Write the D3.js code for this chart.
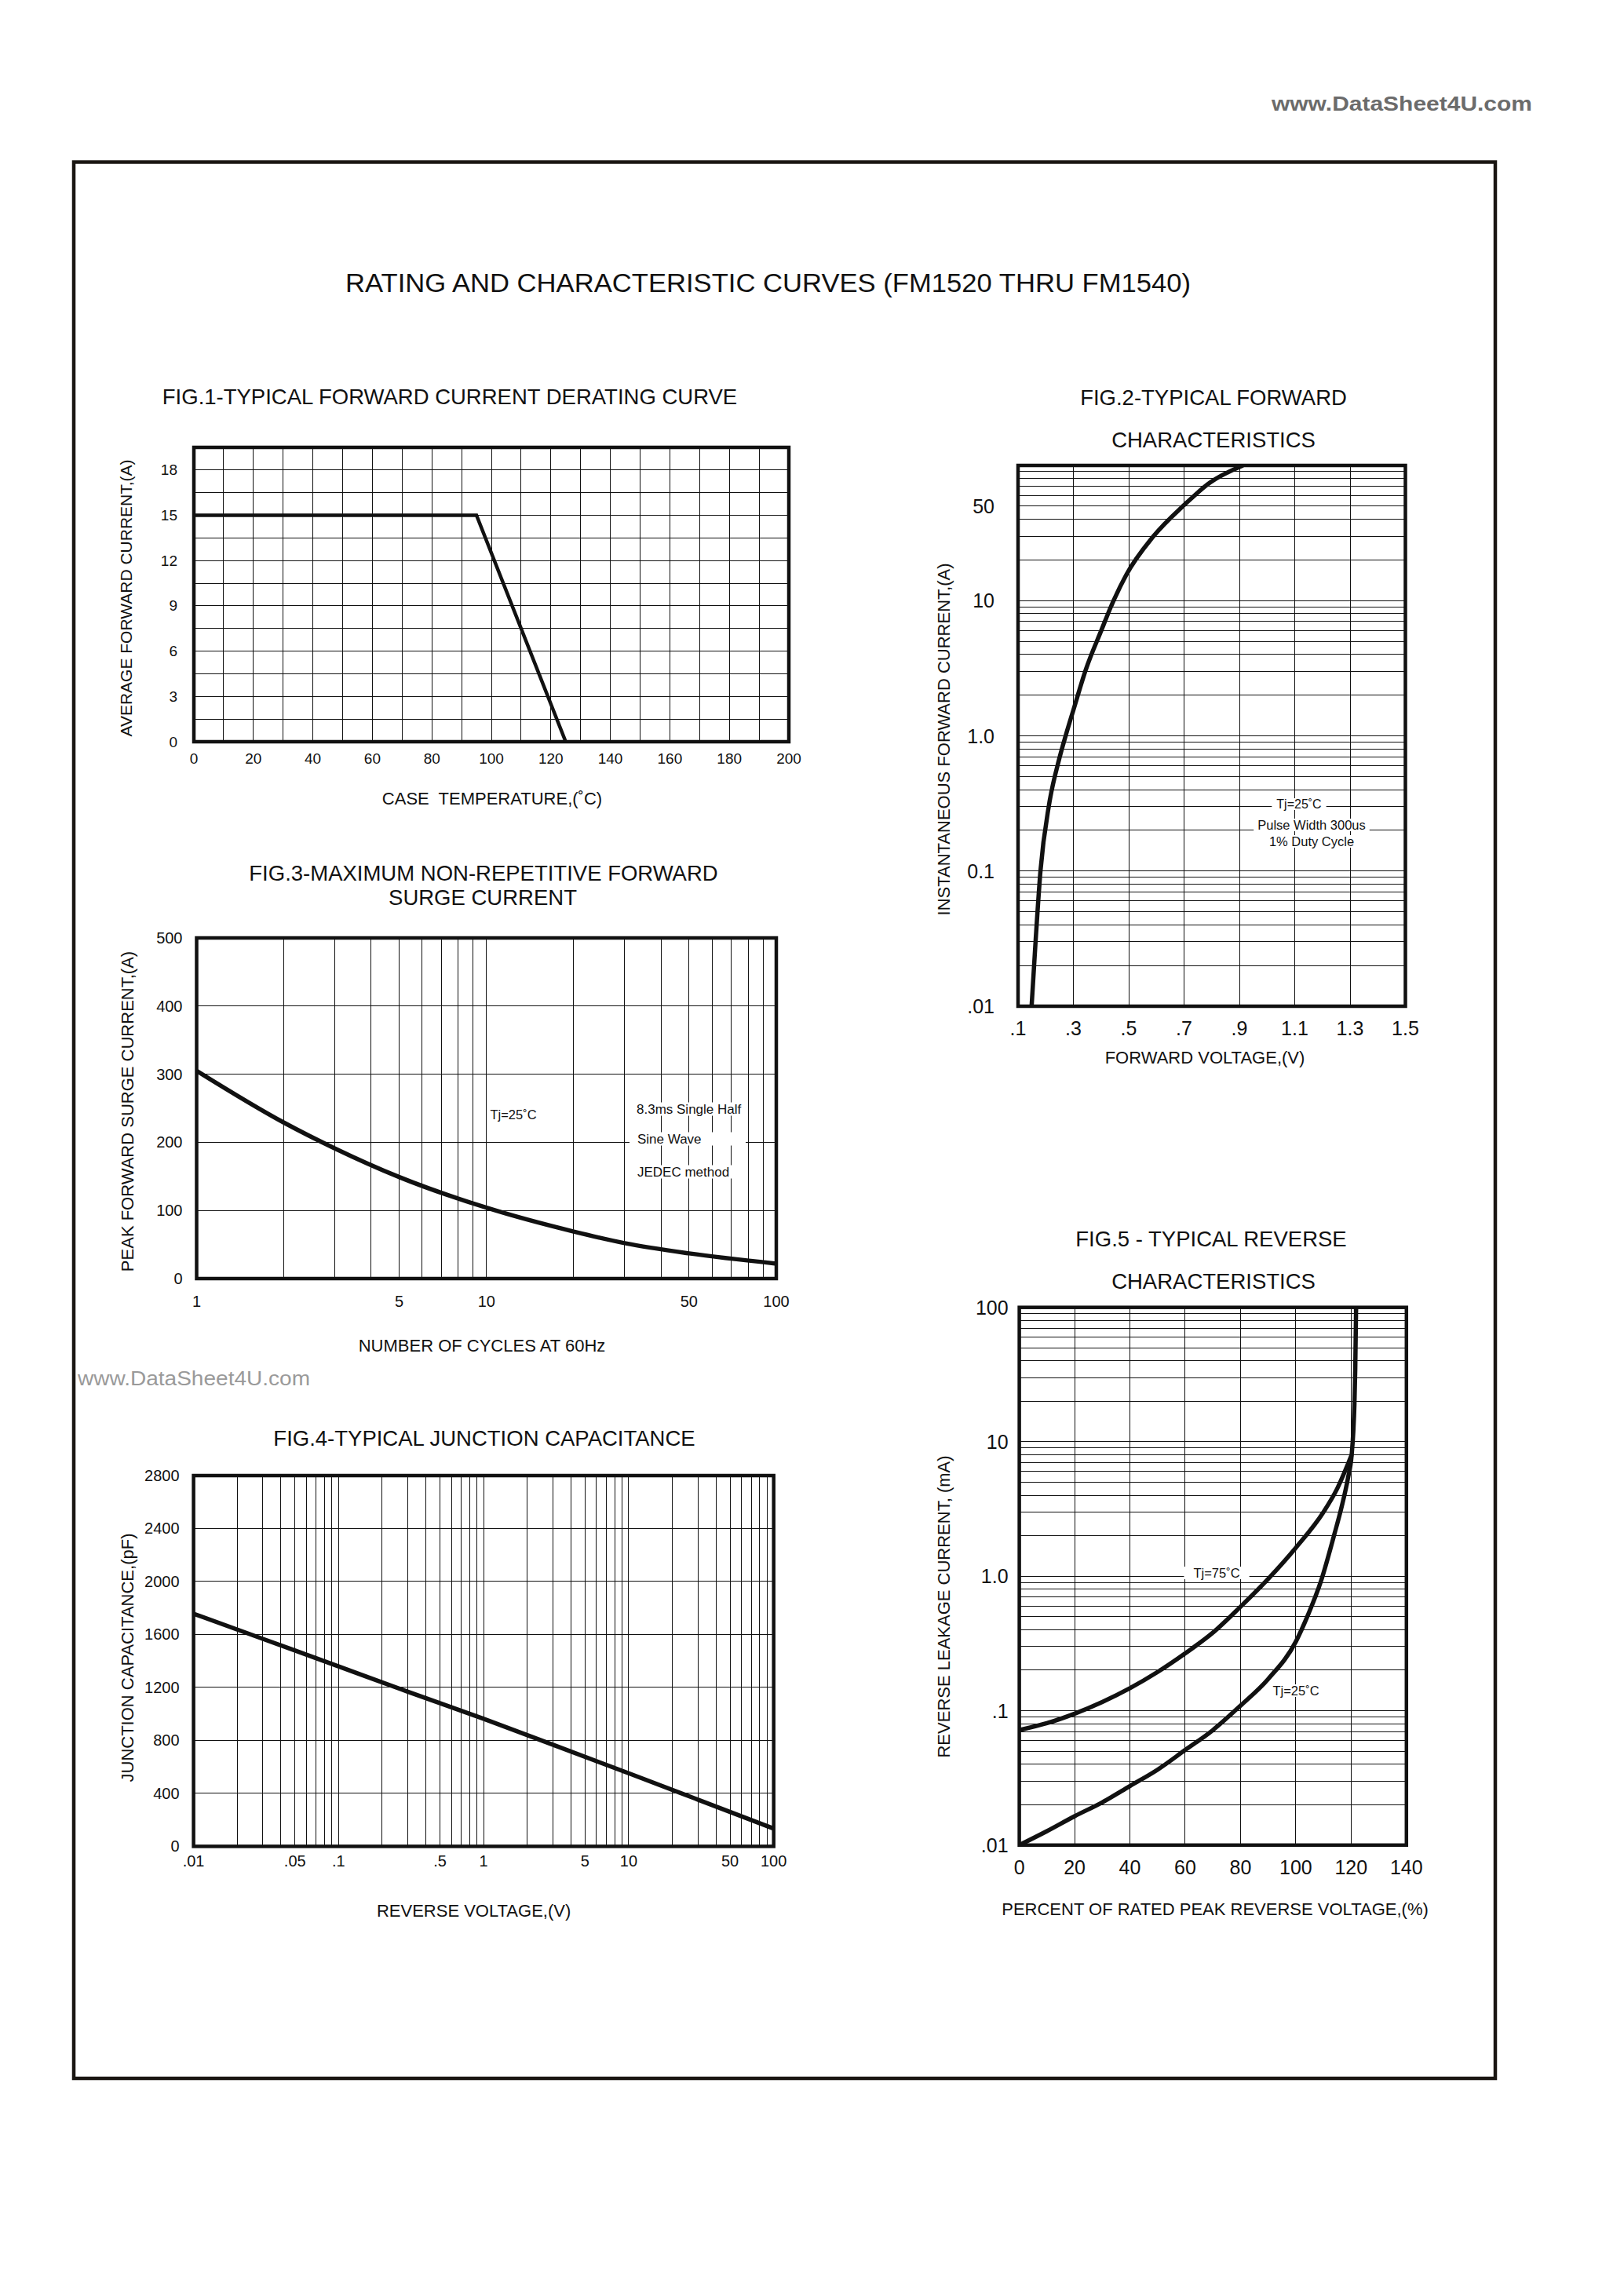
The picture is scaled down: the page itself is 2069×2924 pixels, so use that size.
<!DOCTYPE html>
<html>
<head>
<meta charset="utf-8">
<script src="https://cdn.jsdelivr.net/npm/d3@7"></script>
<style>
body { margin: 0; background: #fff; }
svg { display: block; font-family: "Liberation Sans", Arial, sans-serif; }
</style>
</head>
<body>
<script>
// values

// FIG.1 derating
var fig1Temp = [0, 95, 125];
var fig1Current = [15, 15, 0];
var fig1XTicks = [0, 20, 40, 60, 80, 100, 120, 140, 160, 180, 200];
var fig1YTicks = [0, 3, 6, 9, 12, 15, 18];

// FIG.2 forward characteristics
var fig2Voltage = [0.149, 0.164, 0.181, 0.212, 0.248, 0.272, 0.300, 0.345, 0.403, 0.436, 0.491, 0.588, 0.700, 0.794, 0.913];
var fig2Current = [0.01, 0.0316, 0.1, 0.309, 0.665, 1.0, 1.55, 3.09, 6.17, 9.05, 15.5, 29.7, 50.9, 74.7, 100];
var fig2XTicks = [0.1, 0.3, 0.5, 0.7, 0.9, 1.1, 1.3, 1.5];
var fig2XLabels = [".1", ".3", ".5", ".7", ".9", "1.1", "1.3", "1.5"];
var fig2YTicks = [50, 10, 1, 0.1, 0.01];
var fig2YLabels = ["50", "10", "1.0", "0.1", ".01"];

// FIG.3 surge current
var fig3Cycles = [1, 2, 3, 5, 10, 20, 30, 50, 100];
var fig3Current = [305, 229, 191, 149, 104, 69, 52, 37, 22];
var fig3XTicks = [1, 5, 10, 50, 100];
var fig3YTicks = [0, 100, 200, 300, 400, 500];

// FIG.4 junction capacitance
var fig4Voltage = [0.01, 0.03, 0.1, 0.3, 1, 3, 10, 30, 100];
var fig4Cap = [1757, 1567, 1359, 1168, 963, 768, 552, 353, 134];
var fig4XTicks = [0.01, 0.05, 0.1, 0.5, 1, 5, 10, 50, 100];
var fig4XLabels = [".01", ".05", ".1", ".5", "1", "5", "10", "50", "100"];
var fig4YTicks = [0, 400, 800, 1200, 1600, 2000, 2400, 2800];

// FIG.5 reverse leakage
var fig5Percent25 = [0, 10, 20, 30, 40, 50, 60, 70, 80, 90, 100, 104.6, 109.1, 113.9, 116.6, 118.8, 120.2, 120.8, 121.2, 121.5, 121.8];
var fig5Leak25 = [0.01, 0.0127, 0.0164, 0.0208, 0.0275, 0.0364, 0.051, 0.0717, 0.109, 0.172, 0.326, 0.527, 0.92, 2.04, 3.3, 5.3, 8.0, 12, 19, 35, 100];
var fig5Percent75 = [0, 10, 20, 30, 40, 50, 60, 70, 80, 90, 100, 110, 115, 120.2];
var fig5Leak75 = [0.0717, 0.0807, 0.095, 0.116, 0.147, 0.194, 0.267, 0.38, 0.593, 0.956, 1.63, 3.0, 4.5, 8.0];
var fig5XTicks = [0, 20, 40, 60, 80, 100, 120, 140];
var fig5YTicks = [100, 10, 1, 0.1, 0.01];
var fig5YLabels = ["100", "10", "1.0", ".1", ".01"];

var INK = "#111";

var svg = d3.select("body").append("svg")
    .attr("width", 2069)
    .attr("height", 2924);

svg.append("rect").attr("width", 2069).attr("height", 2924).attr("fill", "#fff");

function zip(a, b) {
    return a.map(function(v, i) { return [v, b[i]]; });
}

// put a 1px line on a pixel centre so it stays thin
function snap(v) {
    return Math.round(v - 0.5) + 0.5;
}

function txt(g, s, x, y, size, anchor) {
    return g.append("text")
        .attr("x", x).attr("y", y)
        .attr("font-size", size)
        .attr("text-anchor", anchor || "middle")
        .attr("dominant-baseline", "central")
        .attr("fill", INK)
        .text(s);
}

// text over the grid with a white patch behind it
function note(g, s, x, y, size, anchor, padX, width) {
    var t = txt(g, s, x, y, size, anchor);
    var b = t.node().getBBox();
    var w = width || (b.width + 2 * padX);
    g.insert("rect", function() { return t.node(); })
        .attr("x", b.x - padX).attr("y", b.y + 1)
        .attr("width", w).attr("height", b.height - 2)
        .attr("fill", "#fff");
    return t;
}

var clipId = 0;

function chart(o) {
    var g = svg.append("g");
    var x = o.x.range([o.left, o.right]);
    var y = o.y.range([o.bottom, o.top]);

    var grid = g.append("g");
    grid.selectAll("line.v").data(o.xGrid).enter().append("line")
        .attr("x1", function(d) { return snap(x(d)); })
        .attr("x2", function(d) { return snap(x(d)); })
        .attr("y1", o.top).attr("y2", o.bottom)
        .attr("stroke", INK).attr("stroke-width", 1);
    grid.selectAll("line.h").data(o.yGrid).enter().append("line")
        .attr("y1", function(d) { return snap(y(d)); })
        .attr("y2", function(d) { return snap(y(d)); })
        .attr("x1", o.left).attr("x2", o.right)
        .attr("stroke", INK).attr("stroke-width", 1);

    var notes = g.append("g");
    (o.notes || []).forEach(function(n) {
        note(notes, n.text, n.x, n.y, n.size, n.anchor, n.pad || 5, n.width);
    });

    clipId += 1;
    g.append("clipPath").attr("id", "clip" + clipId)
        .append("rect")
        .attr("x", o.left).attr("y", o.top)
        .attr("width", o.right - o.left).attr("height", o.bottom - o.top);

    var line = d3.line()
        .x(function(d) { return x(d[0]); })
        .y(function(d) { return y(d[1]); })
        .curve(o.curve || d3.curveMonotoneX);

    g.append("g").attr("clip-path", "url(#clip" + clipId + ")")
        .selectAll("path").data(o.series).enter().append("path")
        .attr("d", line)
        .attr("fill", "none")
        .attr("stroke", INK)
        .attr("stroke-width", o.curveWidth || 5.5)
        .attr("stroke-linejoin", "miter");

    g.append("rect")
        .attr("x", o.left).attr("y", o.top)
        .attr("width", o.right - o.left).attr("height", o.bottom - o.top)
        .attr("fill", "none").attr("stroke", INK).attr("stroke-width", 4.5);

    o.yTicks.forEach(function(d, i) {
        txt(g, o.yLabels ? o.yLabels[i] : String(d), o.left - o.yPad, y(d), o.tickSize, "end");
    });
    o.xTicks.forEach(function(d, i) {
        txt(g, o.xLabels ? o.xLabels[i] : String(d), x(d), o.bottom + o.xPad, o.tickSize);
    });

    o.title.forEach(function(t) {
        txt(g, t.text, t.x, t.y, 27.5);
    });
    txt(g, o.xTitle.text, o.xTitle.x, o.xTitle.y, 22);
    txt(g, o.yTitle.text, 0, 0, o.yTitle.size || 22)
        .attr("x", null).attr("y", null)
        .attr("transform", "translate(" + o.yTitle.x + "," + o.yTitle.y + ") rotate(-90)");
    return g;
}

// page frame, header
svg.append("rect")
    .attr("x", 94).attr("y", 206.5)
    .attr("width", 1811).attr("height", 2441.5)
    .attr("fill", "none").attr("stroke", "#1a1612").attr("stroke-width", 4.5);

svg.append("text")
    .attr("x", 1620).attr("y", 141)
    .attr("font-size", 26).attr("font-weight", "bold")
    .attr("textLength", 332).attr("lengthAdjust", "spacingAndGlyphs")
    .attr("fill", "#6b6b6b")
    .text("www.DataSheet4U.com");

svg.append("text")
    .attr("x", 99).attr("y", 1765)
    .attr("font-size", 26)
    .attr("textLength", 296).attr("lengthAdjust", "spacingAndGlyphs")
    .attr("fill", "#9a9a9a")
    .text("www.DataSheet4U.com");

txt(svg, "RATING AND CHARACTERISTIC CURVES (FM1520 THRU FM1540)", 978.5, 360, 34)
    .attr("textLength", 1077).attr("lengthAdjust", "spacingAndGlyphs");

// FIG.1
chart({
    left: 247, right: 1005, top: 570, bottom: 945,
    x: d3.scaleLinear().domain([0, 200]),
    y: d3.scaleLinear().domain([0, 19.5]),
    xGrid: d3.range(0, 201, 10),
    yGrid: d3.range(0, 19.6, 1.5),
    xTicks: fig1XTicks, yTicks: fig1YTicks,
    tickSize: 19, xPad: 21, yPad: 21,
    series: [zip(fig1Temp, fig1Current)],
    curve: d3.curveLinear, curveWidth: 4.5,
    title: [{ text: "FIG.1-TYPICAL FORWARD CURRENT DERATING CURVE", x: 573, y: 505 }],
    xTitle: { text: "CASE\u00a0 TEMPERATURE,(\u02daC)", x: 627, y: 1017.5 },
    yTitle: { text: "AVERAGE FORWARD CURRENT,(A)", x: 160.5, y: 762, size: 21 }
});

// FIG.2
chart({
    left: 1297, right: 1790.5, top: 593, bottom: 1282,
    x: d3.scaleLinear().domain([0.1, 1.5]),
    y: d3.scaleLog().domain([0.01, 100]),
    xGrid: fig2XTicks,
    yGrid: d3.scaleLog().domain([0.01, 100]).ticks(),
    xTicks: fig2XTicks, xLabels: fig2XLabels,
    yTicks: fig2YTicks, yLabels: fig2YLabels,
    tickSize: 25, xPad: 27.5, yPad: 30,
    series: [zip(fig2Voltage, fig2Current)],
    notes: [
        { text: "Tj=25\u02daC", x: 1655, y: 1024.5, size: 16, pad: 6 },
        { text: "Pulse Width 300us", x: 1671, y: 1051, size: 16.5, pad: 5 },
        { text: "1% Duty Cycle", x: 1671, y: 1072, size: 16.5, pad: 5 }
    ],
    title: [
        { text: "FIG.2-TYPICAL FORWARD", x: 1546, y: 506 },
        { text: "CHARACTERISTICS", x: 1546, y: 560 }
    ],
    xTitle: { text: "FORWARD VOLTAGE,(V)", x: 1535, y: 1347 },
    yTitle: { text: "INSTANTANEOUS FORWARD CURRENT,(A)", x: 1202, y: 942 }
});

// FIG.3
chart({
    left: 250.5, right: 989, top: 1195, bottom: 1629,
    x: d3.scaleLog().domain([1, 100]),
    y: d3.scaleLinear().domain([0, 500]),
    xGrid: d3.scaleLog().domain([1, 100]).ticks(),
    yGrid: fig3YTicks,
    xTicks: fig3XTicks, yTicks: fig3YTicks,
    tickSize: 20, xPad: 29, yPad: 18,
    series: [zip(fig3Cycles, fig3Current)],
    notes: [
        { text: "Tj=25\u02daC", x: 654, y: 1420, size: 16.5, pad: 4 },
        { text: "8.3ms Single Half", x: 811, y: 1413, size: 17, anchor: "start", pad: 9, width: 148 },
        { text: "Sine Wave", x: 812, y: 1451, size: 17, anchor: "start", pad: 10, width: 148 },
        { text: "JEDEC method", x: 812, y: 1493, size: 17, anchor: "start", pad: 10, width: 148 }
    ],
    title: [
        { text: "FIG.3-MAXIMUM NON-REPETITIVE FORWARD", x: 616, y: 1112 },
        { text: "SURGE CURRENT", x: 615, y: 1143 }
    ],
    xTitle: { text: "NUMBER OF CYCLES AT 60Hz", x: 614, y: 1714 },
    yTitle: { text: "PEAK FORWARD SURGE CURRENT,(A)", x: 162, y: 1416 }
});

// FIG.4
chart({
    left: 246.6, right: 985.7, top: 1880, bottom: 2352.4,
    x: d3.scaleLog().domain([0.01, 100]),
    y: d3.scaleLinear().domain([0, 2800]),
    xGrid: d3.scaleLog().domain([0.01, 100]).ticks(),
    yGrid: fig4YTicks,
    xTicks: fig4XTicks, xLabels: fig4XLabels, yTicks: fig4YTicks,
    tickSize: 20, xPad: 19, yPad: 18,
    series: [zip(fig4Voltage, fig4Cap)],
    title: [{ text: "FIG.4-TYPICAL JUNCTION CAPACITANCE", x: 617, y: 1832 }],
    xTitle: { text: "REVERSE VOLTAGE,(V)", x: 603.6, y: 2434 },
    yTitle: { text: "JUNCTION CAPACITANCE,(pF)", x: 162, y: 2112 }
});

// FIG.5
chart({
    left: 1298.6, right: 1791.8, top: 1665.7, bottom: 2350.8,
    x: d3.scaleLinear().domain([0, 140]),
    y: d3.scaleLog().domain([0.01, 100]),
    xGrid: fig5XTicks,
    yGrid: d3.scaleLog().domain([0.01, 100]).ticks(),
    xTicks: fig5XTicks, yTicks: fig5YTicks, yLabels: fig5YLabels,
    tickSize: 25, xPad: 28, yPad: 14,
    series: [zip(fig5Percent25, fig5Leak25), zip(fig5Percent75, fig5Leak75)],
    notes: [
        { text: "Tj=75\u02daC", x: 1550, y: 2004, size: 16.5, pad: 12 },
        { text: "Tj=25\u02daC", x: 1651, y: 2154, size: 16.5, pad: 5 }
    ],
    title: [
        { text: "FIG.5 - TYPICAL REVERSE", x: 1543, y: 1578.5 },
        { text: "CHARACTERISTICS", x: 1546, y: 1632 }
    ],
    xTitle: { text: "PERCENT OF RATED PEAK REVERSE VOLTAGE,(%)", x: 1548, y: 2432.6 },
    yTitle: { text: "REVERSE LEAKAGE CURRENT, (mA)", x: 1202, y: 2047 }
});
</script>
</body>
</html>
